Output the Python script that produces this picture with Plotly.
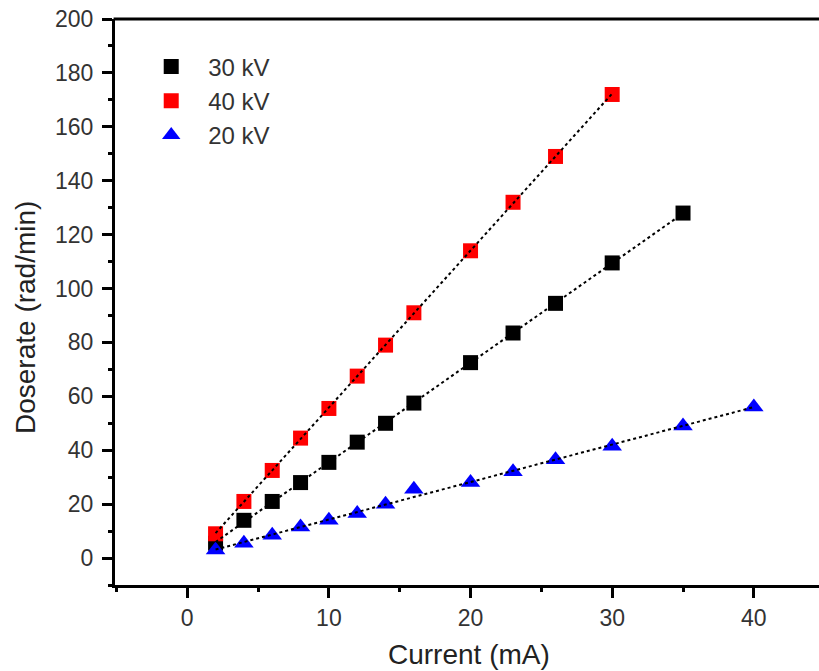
import numpy as np
import plotly.graph_objects as go

# Data
x_30kv = [2, 4, 6, 8, 10, 12, 14, 16, 20, 23, 26, 30, 35]
y_30kv = [5.5, 14, 21, 28, 35.5, 43, 50, 57.5, 72.5, 83.5, 94.5, 109.5, 128]

x_40kv = [2, 4, 6, 8, 10, 12, 14, 16, 20, 23, 26, 30]
y_40kv = [9, 21, 32.5, 44.5, 55.5, 67.5, 79, 91, 114, 132, 149, 172]

x_20kv = [2, 4, 6, 8, 10, 12, 14, 16, 20, 23, 26, 30, 35, 40]
y_20kv = [3, 5.5, 8.5, 11.5, 14, 16.5, 20, 25.5, 28, 32, 36.5, 41.5, 49, 56]

series_names = ["30 kV", "40 kV", "20 kV"]
series_colors = ["#000000", "#ff0000", "#0000ff"]
series_symbols = ["square", "square", "triangle-up"]
series_sizes = [15, 15, 17]

x_ticks = [0, 10, 20, 30, 40]
y_ticks = [0, 20, 40, 60, 80, 100, 120, 140, 160, 180, 200]

FONT = "Liberation Sans, Arial, sans-serif"

fig = go.Figure()
all_x = [x_30kv, x_40kv, x_20kv]
all_y = [y_30kv, y_40kv, y_20kv]

for xs, ys, name, col, sym, sz in zip(all_x, all_y, series_names, series_colors,
                                      series_symbols, series_sizes):
    fig.add_trace(go.Scatter(
        x=xs, y=ys, mode="markers", name=name,
        marker=dict(symbol=sym, color=col, size=sz, line=dict(width=0)),
    ))

# Linear fit lines (dotted black), drawn over markers
for xs, ys in zip(all_x, all_y):
    k, b = np.polyfit(xs, ys, 1)
    xe = [min(xs), max(xs)]
    fig.add_trace(go.Scatter(
        x=xe, y=[k * v + b for v in xe], mode="lines", showlegend=False,
        line=dict(color="black", width=2, dash="dot"), hoverinfo="skip",
    ))

fig.update_layout(
    width=819, height=671,
    margin=dict(l=115, r=0, t=19, b=86),
    paper_bgcolor="white", plot_bgcolor="white",
    font=dict(family=FONT, color="#333333"),
    showlegend=True,
    legend=dict(
        x=0.0273, y=0.955, xanchor="left", yanchor="top",
        bgcolor="rgba(0,0,0,0)", borderwidth=0,
        font=dict(family=FONT, size=24, color="#333333"),
        tracegroupgap=0, itemsizing="trace", itemwidth=64,
    ),
    xaxis=dict(
        range=[-5.1, 44.6], showgrid=False, zeroline=False,
        showline=True, linecolor="black", linewidth=3, mirror=False,
        ticks="outside", ticklen=10, tickwidth=3, tickcolor="black",
        tickvals=x_ticks, ticktext=[str(v) for v in x_ticks],
        tickfont=dict(family=FONT, size=23, color="#333333"),
        minor=dict(dtick=5, tick0=0, ticks="outside", ticklen=4, tickwidth=3,
                   tickcolor="black", showgrid=False),
    ),
    yaxis=dict(
        range=[-10, 200], showgrid=False, zeroline=False,
        showline=True, linecolor="black", linewidth=3,
        ticks="outside", ticklen=10, tickwidth=3, tickcolor="black",
        tickvals=y_ticks, ticktext=[str(v) for v in y_ticks],
        tickfont=dict(family=FONT, size=23, color="#333333"),
        ticklabelstandoff=4,
        minor=dict(dtick=10, tick0=0, ticks="outside", ticklen=4, tickwidth=3,
                   tickcolor="black", showgrid=False),
    ),
    shapes=[
        dict(type="line", xref="paper", yref="paper", x0=-0.002, x1=1.0,
             y0=1, y1=1, line=dict(color="black", width=3), layer="above"),
    ],
    annotations=[
        dict(text="Current (mA)", xref="paper", yref="paper",
             x=(469 - 115) / 704, y=-(654 - 585) / 566,
             xanchor="center", yanchor="middle", showarrow=False,
             font=dict(family=FONT, size=28, color="#222222")),
        dict(text="Doserate (rad/min)", xref="paper", yref="paper",
             x=-(115 - 25) / 704, y=(585 - 318) / 566, textangle=-90,
             xanchor="center", yanchor="middle", showarrow=False,
             font=dict(family=FONT, size=28, color="#222222")),
    ],
)

fig.write_html(
    "out.html",
    config={"displayModeBar": False},
    post_script=(
        "document.documentElement.style.overflow='hidden';"
        "document.body.style.margin='0';document.body.style.overflow='hidden';"
    ),
)
